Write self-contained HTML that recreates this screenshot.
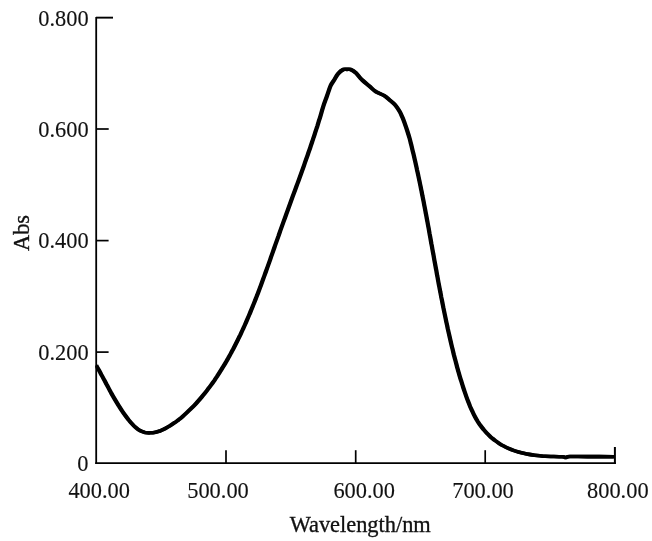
<!DOCTYPE html>
<html>
<head>
<meta charset="utf-8">
<style>
  html, body { margin: 0; padding: 0; background: #fff; }
  body { width: 652px; height: 541px; overflow: hidden; }
  svg { display: block; will-change: transform; }
  text { font-family: "Liberation Serif", serif; font-size: 22.4px; fill: #111; stroke: #111; stroke-width: 0.12px; }
  text.w { stroke-width: 0.32px; }
</style>
</head>
<body>
<svg width="652" height="541" viewBox="0 0 652 541">
  <rect x="0" y="0" width="652" height="541" fill="#ffffff"/>
  <!-- axes -->
  <g stroke="#000" fill="none" stroke-linecap="butt">
    <line x1="96.2" y1="16.9" x2="96.2" y2="463.9" stroke-width="1.8"/>
    <line x1="95.3" y1="463.05" x2="615.9" y2="463.05" stroke-width="1.7"/>
  </g>
  <g stroke="#000" stroke-width="1.6" fill="none">
    <!-- y ticks -->
    <line x1="96" y1="17.65" x2="113" y2="17.65" stroke-width="1.9"/>
    <line x1="96" y1="129" x2="108.7" y2="129" stroke-width="1.7"/>
    <line x1="96" y1="240.6" x2="108.6" y2="240.6" stroke-width="1.7"/>
    <line x1="96" y1="352.1" x2="108.6" y2="352.1" stroke-width="1.7"/>
    <!-- x ticks -->
    <line x1="226" y1="450.2" x2="226" y2="463" stroke-width="1.7"/>
    <line x1="355.7" y1="450.2" x2="355.7" y2="463" stroke-width="1.7"/>
    <line x1="485.2" y1="450.2" x2="485.2" y2="463" stroke-width="1.7"/>
    <line x1="614.9" y1="447" x2="614.9" y2="463.9" stroke-width="2"/>
  </g>
  <!-- curve -->
  <clipPath id="cp"><rect x="95.4" y="0" width="520.4" height="541"/></clipPath>
  <g fill="none" stroke="#000" stroke-width="3.6" stroke-linejoin="round" stroke-linecap="butt" clip-path="url(#cp)">
    <path transform="translate(-0.35,0)" d="M96.2,365.3 C96.6,366.1 97.9,368.4 98.8,369.9 C99.7,371.5 100.5,373.0 101.3,374.6 C102.2,376.1 103.0,377.7 103.8,379.2 C104.7,380.8 105.5,382.3 106.3,383.9 C107.1,385.4 108.0,387.0 108.8,388.5 C109.6,390.1 110.5,391.6 111.3,393.2 C112.2,394.7 113.0,396.2 113.9,397.8 C114.8,399.3 115.7,400.8 116.6,402.3 C117.5,403.8 118.4,405.3 119.4,406.8 C120.3,408.3 121.3,409.8 122.3,411.2 C123.3,412.7 124.3,414.1 125.4,415.6 C126.4,417.0 127.5,418.4 128.6,419.8 C129.8,421.2 130.9,422.6 132.1,423.9 C133.3,425.3 134.6,426.6 135.9,427.7 C137.2,428.8 138.6,429.9 140.1,430.6 C141.6,431.4 143.3,432.0 145.0,432.4 C146.6,432.7 148.5,432.9 150.2,432.8 C152.0,432.8 153.8,432.6 155.6,432.2 C157.3,431.8 159.0,431.3 160.7,430.7 C162.3,430.0 163.9,429.3 165.5,428.4 C167.0,427.6 168.5,426.7 170.0,425.8 C171.5,424.8 173.0,423.8 174.4,422.8 C175.9,421.8 177.3,420.7 178.7,419.7 C180.1,418.6 181.4,417.5 182.8,416.3 C184.1,415.2 185.4,414.0 186.7,412.8 C188.0,411.6 189.3,410.4 190.6,409.1 C191.8,407.9 193.0,406.6 194.2,405.4 C195.5,404.1 196.7,402.8 197.8,401.5 C199.0,400.2 200.2,398.8 201.3,397.5 C202.5,396.1 203.6,394.8 204.7,393.4 C205.8,392.0 206.9,390.6 207.9,389.2 C209.0,387.8 210.1,386.4 211.1,385.0 C212.1,383.6 213.2,382.1 214.2,380.7 C215.2,379.2 216.2,377.7 217.2,376.3 C218.1,374.8 219.1,373.3 220.0,371.8 C221.0,370.3 221.9,368.8 222.8,367.3 C223.8,365.8 224.7,364.3 225.6,362.8 C226.5,361.2 227.3,359.7 228.2,358.2 C229.1,356.6 229.9,355.1 230.8,353.5 C231.6,352.0 232.4,350.4 233.3,348.8 C234.1,347.3 234.9,345.7 235.7,344.1 C236.5,342.6 237.3,341.0 238.1,339.4 C238.8,337.8 239.6,336.3 240.4,334.7 C241.1,333.1 241.9,331.5 242.6,329.9 C243.3,328.3 244.1,326.7 244.8,325.1 C245.5,323.5 246.2,321.9 246.9,320.2 C247.6,318.6 248.3,317.0 249.0,315.4 C249.7,313.8 250.4,312.1 251.0,310.5 C251.7,308.9 252.4,307.3 253.0,305.6 C253.7,304.0 254.3,302.4 255.0,300.7 C255.6,299.1 256.3,297.4 256.9,295.8 C257.6,294.1 258.2,292.5 258.8,290.8 C259.4,289.2 260.1,287.5 260.7,285.9 C261.3,284.2 261.9,282.6 262.5,280.9 C263.1,279.3 263.7,277.6 264.3,276.0 C264.9,274.3 265.5,272.6 266.1,271.0 C266.7,269.3 267.3,267.7 267.9,266.0 C268.5,264.3 269.1,262.7 269.7,261.0 C270.3,259.3 270.8,257.7 271.4,256.0 C272.0,254.3 272.6,252.7 273.2,251.0 C273.8,249.3 274.4,247.7 274.9,246.0 C275.5,244.3 276.1,242.7 276.7,241.0 C277.3,239.3 277.9,237.7 278.5,236.0 C279.0,234.3 279.6,232.7 280.2,231.0 C280.8,229.3 281.4,227.7 282.0,226.0 C282.6,224.4 283.2,222.7 283.8,221.0 C284.4,219.4 285.0,217.7 285.6,216.1 C286.2,214.4 286.8,212.7 287.4,211.1 C288.0,209.4 288.6,207.8 289.2,206.1 C289.8,204.5 290.4,202.8 291.0,201.1 C291.6,199.5 292.2,197.8 292.8,196.2 C293.4,194.5 294.1,192.9 294.7,191.2 C295.3,189.6 295.9,187.9 296.5,186.2 C297.1,184.6 297.7,182.9 298.3,181.3 C298.9,179.6 299.5,178.0 300.1,176.3 C300.7,174.6 301.3,173.0 301.9,171.3 C302.5,169.7 303.1,168.0 303.7,166.4 C304.3,164.7 304.8,163.0 305.4,161.4 C306.0,159.7 306.6,158.0 307.2,156.4 C307.8,154.7 308.3,153.1 308.9,151.4 C309.5,149.7 310.1,148.1 310.6,146.4 C311.2,144.7 311.8,143.0 312.3,141.4 C312.9,139.7 313.4,138.0 314.0,136.4 C314.6,134.7 315.1,133.0 315.6,131.3 C316.2,129.6 316.7,128.0 317.3,126.3 C317.8,124.6 318.3,122.9 318.8,121.2 C319.4,119.5 319.9,117.9 320.4,116.2 C320.9,114.5 321.4,112.8 321.9,111.1 C322.4,109.4 322.6,108.5 323.4,106.0 C324.2,103.5 325.8,99.3 327.0,95.9 C328.2,92.5 329.5,88.2 330.7,85.5 C331.9,82.8 333.2,81.6 334.4,79.6 C335.6,77.6 336.6,75.4 338.1,73.7 C339.6,72.0 341.8,70.2 343.3,69.5 C344.8,68.8 345.8,69.4 347.0,69.4 C348.2,69.4 349.2,68.9 350.7,69.5 C352.2,70.1 354.0,71.2 355.9,72.9 C357.8,74.6 359.6,77.4 361.8,79.6 C364.1,81.8 367.1,84.2 369.4,86.2 C371.7,88.2 373.1,89.9 375.5,91.4 C377.9,93.0 381.6,94.0 384.0,95.5 C386.4,97.0 388.1,98.8 390.0,100.3 C391.9,101.8 393.5,102.9 395.1,104.8 C396.7,106.7 398.4,109.3 399.6,111.4 C400.8,113.5 401.5,115.3 402.4,117.3 C403.3,119.3 404.0,121.4 404.8,123.6 C405.6,125.8 406.4,128.1 407.2,130.6 C408.0,133.1 409.0,136.2 409.6,138.4 C410.2,140.6 410.5,141.9 410.9,143.6 C411.4,145.4 411.8,147.1 412.2,148.8 C412.6,150.6 413.0,152.3 413.5,154.1 C413.9,155.8 414.3,157.6 414.7,159.3 C415.1,161.1 415.5,162.8 415.9,164.6 C416.3,166.3 416.7,168.1 417.0,169.8 C417.4,171.6 417.8,173.3 418.2,175.1 C418.6,176.9 418.9,178.6 419.3,180.4 C419.7,182.1 420.0,183.9 420.4,185.6 C420.8,187.4 421.1,189.2 421.5,190.9 C421.8,192.7 422.2,194.4 422.5,196.2 C422.9,198.0 423.2,199.7 423.6,201.5 C423.9,203.3 424.2,205.0 424.6,206.8 C424.9,208.5 425.3,210.3 425.6,212.1 C425.9,213.8 426.3,215.6 426.6,217.4 C426.9,219.1 427.2,220.9 427.6,222.7 C427.9,224.4 428.2,226.2 428.6,228.0 C428.9,229.7 429.2,231.5 429.5,233.3 C429.8,235.0 430.2,236.8 430.5,238.6 C430.8,240.3 431.1,242.1 431.4,243.9 C431.8,245.6 432.1,247.4 432.4,249.2 C432.7,250.9 433.0,252.7 433.4,254.5 C433.7,256.2 434.0,258.0 434.3,259.8 C434.6,261.5 435.0,263.3 435.3,265.1 C435.6,266.8 435.9,268.6 436.3,270.4 C436.6,272.1 436.9,273.9 437.2,275.7 C437.6,277.4 437.9,279.2 438.2,281.0 C438.5,282.7 438.9,284.5 439.2,286.3 C439.5,288.0 439.9,289.8 440.2,291.5 C440.6,293.3 440.9,295.1 441.2,296.8 C441.6,298.6 441.9,300.3 442.3,302.1 C442.6,303.9 443.0,305.6 443.3,307.4 C443.7,309.1 444.0,310.9 444.4,312.6 C444.8,314.4 445.1,316.1 445.5,317.9 C445.9,319.7 446.2,321.4 446.6,323.2 C447.0,324.9 447.4,326.7 447.7,328.4 C448.1,330.2 448.5,331.9 448.9,333.6 C449.3,335.4 449.7,337.1 450.1,338.9 C450.5,340.6 450.9,342.4 451.3,344.1 C451.7,345.9 452.1,347.6 452.6,349.3 C453.0,351.1 453.4,352.8 453.8,354.5 C454.3,356.3 454.7,358.0 455.2,359.7 C455.6,361.5 456.1,363.2 456.6,365.0 C457.0,366.7 457.5,368.4 458.0,370.2 C458.5,371.9 459.0,373.6 459.5,375.4 C460.0,377.1 460.5,378.8 461.1,380.6 C461.6,382.3 462.1,384.0 462.7,385.8 C463.2,387.5 463.8,389.2 464.4,391.0 C465.0,392.7 465.6,394.4 466.2,396.2 C466.8,397.9 467.4,399.6 468.1,401.3 C468.8,403.1 469.4,404.8 470.1,406.4 C470.9,408.1 471.6,409.8 472.4,411.4 C473.1,413.1 473.9,414.7 474.8,416.3 C475.6,417.8 476.5,419.4 477.4,420.9 C478.4,422.4 479.3,423.9 480.4,425.4 C481.4,426.8 482.5,428.2 483.6,429.5 C484.7,430.9 485.9,432.2 487.1,433.4 C488.3,434.7 489.5,435.9 490.8,437.1 C492.2,438.2 493.5,439.3 494.9,440.4 C496.3,441.4 497.7,442.4 499.2,443.4 C500.6,444.3 502.1,445.2 503.7,446.0 C505.2,446.9 506.8,447.7 508.4,448.4 C510.0,449.1 511.7,449.8 513.4,450.4 C515.0,451.0 516.7,451.5 518.5,452.0 C520.2,452.5 522.0,453.0 523.7,453.3 C525.5,453.7 527.3,454.1 529.1,454.4 C530.9,454.7 532.7,455.0 534.5,455.2 C536.3,455.4 538.1,455.6 539.9,455.8 C541.7,455.9 541.6,456.0 545.3,456.2 C549.0,456.4 558.8,456.5 562.2,456.7 C565.6,456.9 564.3,457.5 565.6,457.5 C566.9,457.5 566.1,456.6 569.8,456.5 C573.4,456.4 580.1,456.6 587.5,456.6 C594.9,456.6 609.6,456.7 614.0,456.7"/>
    <path transform="translate(0.35,0)" d="M96.2,365.3 C96.6,366.1 97.9,368.4 98.8,369.9 C99.7,371.5 100.5,373.0 101.3,374.6 C102.2,376.1 103.0,377.7 103.8,379.2 C104.7,380.8 105.5,382.3 106.3,383.9 C107.1,385.4 108.0,387.0 108.8,388.5 C109.6,390.1 110.5,391.6 111.3,393.2 C112.2,394.7 113.0,396.2 113.9,397.8 C114.8,399.3 115.7,400.8 116.6,402.3 C117.5,403.8 118.4,405.3 119.4,406.8 C120.3,408.3 121.3,409.8 122.3,411.2 C123.3,412.7 124.3,414.1 125.4,415.6 C126.4,417.0 127.5,418.4 128.6,419.8 C129.8,421.2 130.9,422.6 132.1,423.9 C133.3,425.3 134.6,426.6 135.9,427.7 C137.2,428.8 138.6,429.9 140.1,430.6 C141.6,431.4 143.3,432.0 145.0,432.4 C146.6,432.7 148.5,432.9 150.2,432.8 C152.0,432.8 153.8,432.6 155.6,432.2 C157.3,431.8 159.0,431.3 160.7,430.7 C162.3,430.0 163.9,429.3 165.5,428.4 C167.0,427.6 168.5,426.7 170.0,425.8 C171.5,424.8 173.0,423.8 174.4,422.8 C175.9,421.8 177.3,420.7 178.7,419.7 C180.1,418.6 181.4,417.5 182.8,416.3 C184.1,415.2 185.4,414.0 186.7,412.8 C188.0,411.6 189.3,410.4 190.6,409.1 C191.8,407.9 193.0,406.6 194.2,405.4 C195.5,404.1 196.7,402.8 197.8,401.5 C199.0,400.2 200.2,398.8 201.3,397.5 C202.5,396.1 203.6,394.8 204.7,393.4 C205.8,392.0 206.9,390.6 207.9,389.2 C209.0,387.8 210.1,386.4 211.1,385.0 C212.1,383.6 213.2,382.1 214.2,380.7 C215.2,379.2 216.2,377.7 217.2,376.3 C218.1,374.8 219.1,373.3 220.0,371.8 C221.0,370.3 221.9,368.8 222.8,367.3 C223.8,365.8 224.7,364.3 225.6,362.8 C226.5,361.2 227.3,359.7 228.2,358.2 C229.1,356.6 229.9,355.1 230.8,353.5 C231.6,352.0 232.4,350.4 233.3,348.8 C234.1,347.3 234.9,345.7 235.7,344.1 C236.5,342.6 237.3,341.0 238.1,339.4 C238.8,337.8 239.6,336.3 240.4,334.7 C241.1,333.1 241.9,331.5 242.6,329.9 C243.3,328.3 244.1,326.7 244.8,325.1 C245.5,323.5 246.2,321.9 246.9,320.2 C247.6,318.6 248.3,317.0 249.0,315.4 C249.7,313.8 250.4,312.1 251.0,310.5 C251.7,308.9 252.4,307.3 253.0,305.6 C253.7,304.0 254.3,302.4 255.0,300.7 C255.6,299.1 256.3,297.4 256.9,295.8 C257.6,294.1 258.2,292.5 258.8,290.8 C259.4,289.2 260.1,287.5 260.7,285.9 C261.3,284.2 261.9,282.6 262.5,280.9 C263.1,279.3 263.7,277.6 264.3,276.0 C264.9,274.3 265.5,272.6 266.1,271.0 C266.7,269.3 267.3,267.7 267.9,266.0 C268.5,264.3 269.1,262.7 269.7,261.0 C270.3,259.3 270.8,257.7 271.4,256.0 C272.0,254.3 272.6,252.7 273.2,251.0 C273.8,249.3 274.4,247.7 274.9,246.0 C275.5,244.3 276.1,242.7 276.7,241.0 C277.3,239.3 277.9,237.7 278.5,236.0 C279.0,234.3 279.6,232.7 280.2,231.0 C280.8,229.3 281.4,227.7 282.0,226.0 C282.6,224.4 283.2,222.7 283.8,221.0 C284.4,219.4 285.0,217.7 285.6,216.1 C286.2,214.4 286.8,212.7 287.4,211.1 C288.0,209.4 288.6,207.8 289.2,206.1 C289.8,204.5 290.4,202.8 291.0,201.1 C291.6,199.5 292.2,197.8 292.8,196.2 C293.4,194.5 294.1,192.9 294.7,191.2 C295.3,189.6 295.9,187.9 296.5,186.2 C297.1,184.6 297.7,182.9 298.3,181.3 C298.9,179.6 299.5,178.0 300.1,176.3 C300.7,174.6 301.3,173.0 301.9,171.3 C302.5,169.7 303.1,168.0 303.7,166.4 C304.3,164.7 304.8,163.0 305.4,161.4 C306.0,159.7 306.6,158.0 307.2,156.4 C307.8,154.7 308.3,153.1 308.9,151.4 C309.5,149.7 310.1,148.1 310.6,146.4 C311.2,144.7 311.8,143.0 312.3,141.4 C312.9,139.7 313.4,138.0 314.0,136.4 C314.6,134.7 315.1,133.0 315.6,131.3 C316.2,129.6 316.7,128.0 317.3,126.3 C317.8,124.6 318.3,122.9 318.8,121.2 C319.4,119.5 319.9,117.9 320.4,116.2 C320.9,114.5 321.4,112.8 321.9,111.1 C322.4,109.4 322.6,108.5 323.4,106.0 C324.2,103.5 325.8,99.3 327.0,95.9 C328.2,92.5 329.5,88.2 330.7,85.5 C331.9,82.8 333.2,81.6 334.4,79.6 C335.6,77.6 336.6,75.4 338.1,73.7 C339.6,72.0 341.8,70.2 343.3,69.5 C344.8,68.8 345.8,69.4 347.0,69.4 C348.2,69.4 349.2,68.9 350.7,69.5 C352.2,70.1 354.0,71.2 355.9,72.9 C357.8,74.6 359.6,77.4 361.8,79.6 C364.1,81.8 367.1,84.2 369.4,86.2 C371.7,88.2 373.1,89.9 375.5,91.4 C377.9,93.0 381.6,94.0 384.0,95.5 C386.4,97.0 388.1,98.8 390.0,100.3 C391.9,101.8 393.5,102.9 395.1,104.8 C396.7,106.7 398.4,109.3 399.6,111.4 C400.8,113.5 401.5,115.3 402.4,117.3 C403.3,119.3 404.0,121.4 404.8,123.6 C405.6,125.8 406.4,128.1 407.2,130.6 C408.0,133.1 409.0,136.2 409.6,138.4 C410.2,140.6 410.5,141.9 410.9,143.6 C411.4,145.4 411.8,147.1 412.2,148.8 C412.6,150.6 413.0,152.3 413.5,154.1 C413.9,155.8 414.3,157.6 414.7,159.3 C415.1,161.1 415.5,162.8 415.9,164.6 C416.3,166.3 416.7,168.1 417.0,169.8 C417.4,171.6 417.8,173.3 418.2,175.1 C418.6,176.9 418.9,178.6 419.3,180.4 C419.7,182.1 420.0,183.9 420.4,185.6 C420.8,187.4 421.1,189.2 421.5,190.9 C421.8,192.7 422.2,194.4 422.5,196.2 C422.9,198.0 423.2,199.7 423.6,201.5 C423.9,203.3 424.2,205.0 424.6,206.8 C424.9,208.5 425.3,210.3 425.6,212.1 C425.9,213.8 426.3,215.6 426.6,217.4 C426.9,219.1 427.2,220.9 427.6,222.7 C427.9,224.4 428.2,226.2 428.6,228.0 C428.9,229.7 429.2,231.5 429.5,233.3 C429.8,235.0 430.2,236.8 430.5,238.6 C430.8,240.3 431.1,242.1 431.4,243.9 C431.8,245.6 432.1,247.4 432.4,249.2 C432.7,250.9 433.0,252.7 433.4,254.5 C433.7,256.2 434.0,258.0 434.3,259.8 C434.6,261.5 435.0,263.3 435.3,265.1 C435.6,266.8 435.9,268.6 436.3,270.4 C436.6,272.1 436.9,273.9 437.2,275.7 C437.6,277.4 437.9,279.2 438.2,281.0 C438.5,282.7 438.9,284.5 439.2,286.3 C439.5,288.0 439.9,289.8 440.2,291.5 C440.6,293.3 440.9,295.1 441.2,296.8 C441.6,298.6 441.9,300.3 442.3,302.1 C442.6,303.9 443.0,305.6 443.3,307.4 C443.7,309.1 444.0,310.9 444.4,312.6 C444.8,314.4 445.1,316.1 445.5,317.9 C445.9,319.7 446.2,321.4 446.6,323.2 C447.0,324.9 447.4,326.7 447.7,328.4 C448.1,330.2 448.5,331.9 448.9,333.6 C449.3,335.4 449.7,337.1 450.1,338.9 C450.5,340.6 450.9,342.4 451.3,344.1 C451.7,345.9 452.1,347.6 452.6,349.3 C453.0,351.1 453.4,352.8 453.8,354.5 C454.3,356.3 454.7,358.0 455.2,359.7 C455.6,361.5 456.1,363.2 456.6,365.0 C457.0,366.7 457.5,368.4 458.0,370.2 C458.5,371.9 459.0,373.6 459.5,375.4 C460.0,377.1 460.5,378.8 461.1,380.6 C461.6,382.3 462.1,384.0 462.7,385.8 C463.2,387.5 463.8,389.2 464.4,391.0 C465.0,392.7 465.6,394.4 466.2,396.2 C466.8,397.9 467.4,399.6 468.1,401.3 C468.8,403.1 469.4,404.8 470.1,406.4 C470.9,408.1 471.6,409.8 472.4,411.4 C473.1,413.1 473.9,414.7 474.8,416.3 C475.6,417.8 476.5,419.4 477.4,420.9 C478.4,422.4 479.3,423.9 480.4,425.4 C481.4,426.8 482.5,428.2 483.6,429.5 C484.7,430.9 485.9,432.2 487.1,433.4 C488.3,434.7 489.5,435.9 490.8,437.1 C492.2,438.2 493.5,439.3 494.9,440.4 C496.3,441.4 497.7,442.4 499.2,443.4 C500.6,444.3 502.1,445.2 503.7,446.0 C505.2,446.9 506.8,447.7 508.4,448.4 C510.0,449.1 511.7,449.8 513.4,450.4 C515.0,451.0 516.7,451.5 518.5,452.0 C520.2,452.5 522.0,453.0 523.7,453.3 C525.5,453.7 527.3,454.1 529.1,454.4 C530.9,454.7 532.7,455.0 534.5,455.2 C536.3,455.4 538.1,455.6 539.9,455.8 C541.7,455.9 541.6,456.0 545.3,456.2 C549.0,456.4 558.8,456.5 562.2,456.7 C565.6,456.9 564.3,457.5 565.6,457.5 C566.9,457.5 566.1,456.6 569.8,456.5 C573.4,456.4 580.1,456.6 587.5,456.6 C594.9,456.6 609.6,456.7 614.0,456.7"/>
  </g>
  <!-- y labels -->
  <g text-anchor="end">
    <text transform="translate(88.7,26) scale(1,1.06)">0.800</text>
    <text transform="translate(88.7,137.3) scale(1,1.06)">0.600</text>
    <text transform="translate(88.7,248.4) scale(1,1.06)">0.400</text>
    <text transform="translate(88.7,359.7) scale(1,1.06)">0.200</text>
    <text transform="translate(88.5,470.6) scale(1,1.06)">0</text>
  </g>
  <!-- x labels -->
  <g text-anchor="middle">
    <text transform="translate(99.2,498.2) scale(1,1.03)">400.00</text>
    <text transform="translate(218,498.2) scale(1,1.03)">500.00</text>
    <text transform="translate(364.2,498.2) scale(1,1.03)">600.00</text>
    <text transform="translate(483,498.2) scale(1,1.03)">700.00</text>
    <text transform="translate(617.8,498.2) scale(1,1.03)">800.00</text>
    <text class="w" transform="translate(360.2,531.6) scale(1,1.03)">Wavelength/nm</text>
  </g>
  <text class="w" text-anchor="middle" transform="translate(29.3,233) rotate(-90) scale(1,1.06)">Abs</text>
</svg>
</body>
</html>
